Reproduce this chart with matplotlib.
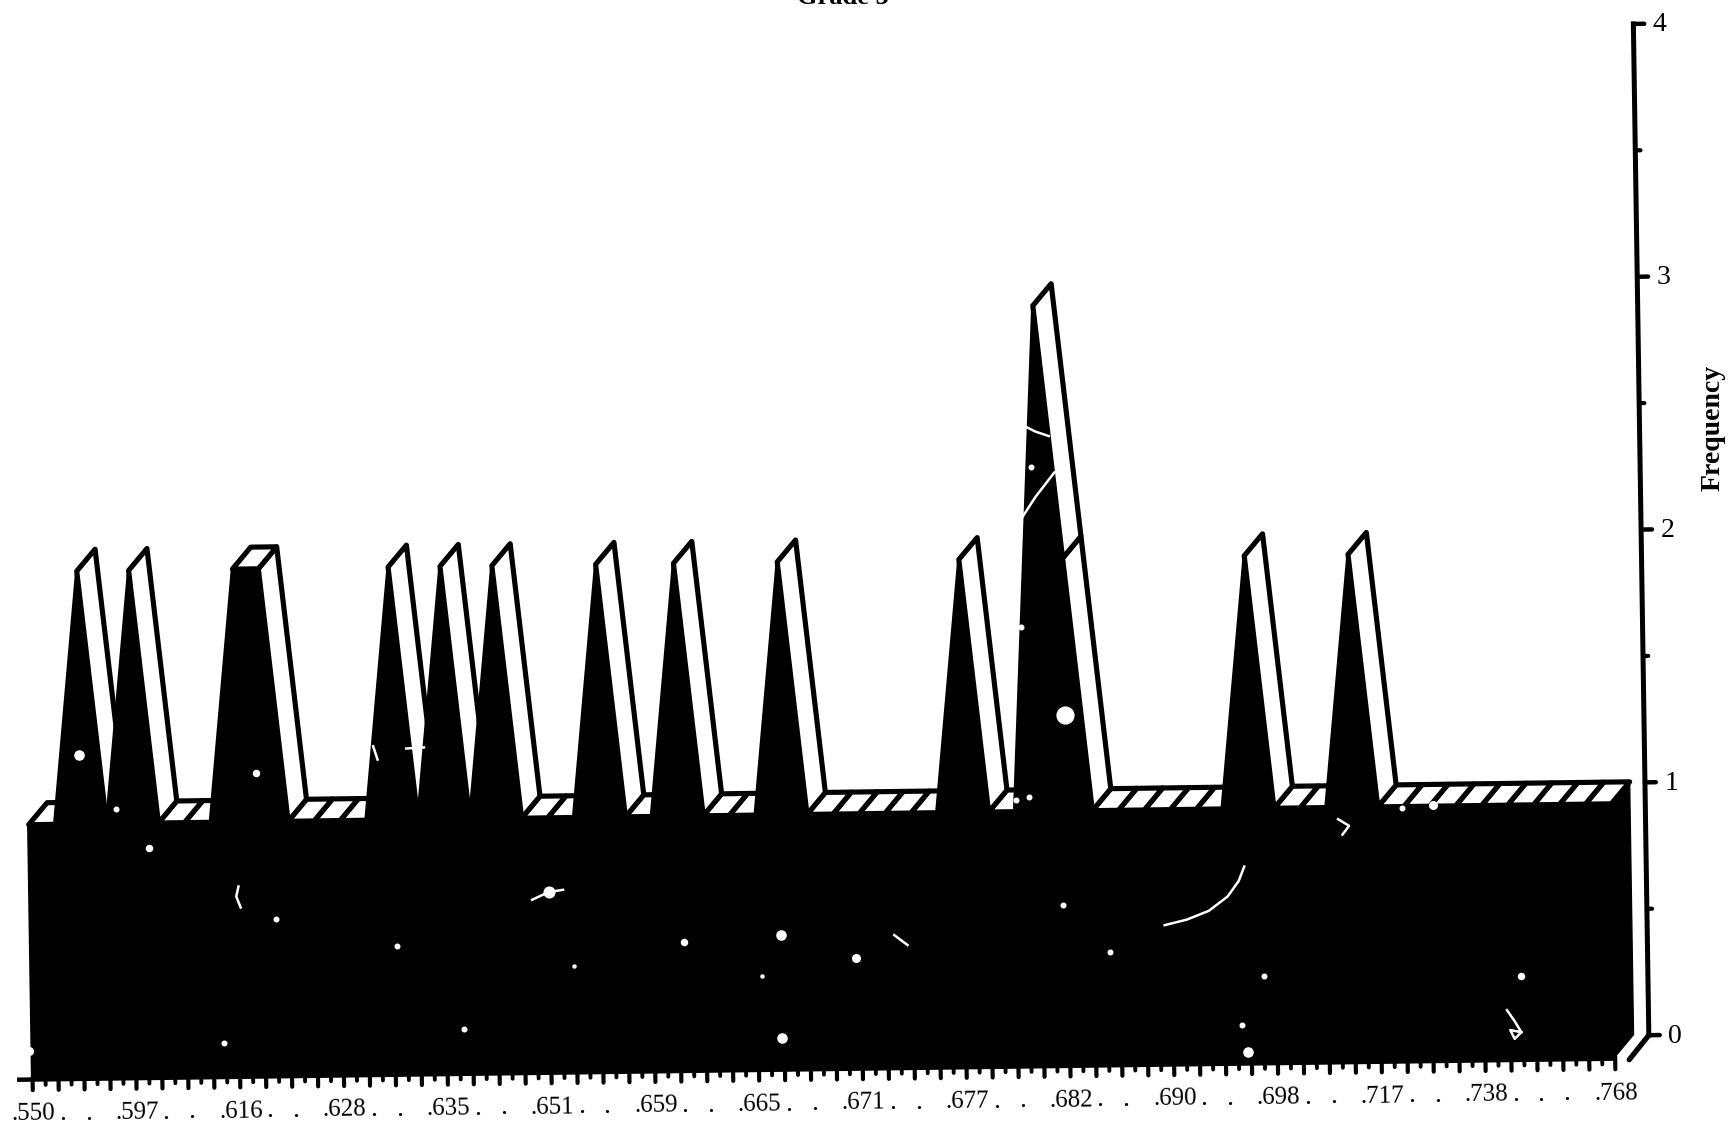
import numpy as np
import matplotlib
matplotlib.use("Agg")
import matplotlib.pyplot as plt
from matplotlib.transforms import Affine2D
from matplotlib.patches import Polygon

# ---- data ----
frequency = [1, 1, 2, 1, 2, 1, 1, 1, 2, 2, 1, 1, 1, 1, 2, 1, 2, 1, 2, 1, 1, 1, 2, 1, 1, 2, 1, 1, 1, 2,
             1, 1, 1, 1, 1, 1, 2, 1, 1, 3, 2, 1, 1, 1, 1, 1, 1, 2, 1, 1, 1, 2, 1, 1, 1, 1, 1, 1, 1, 1, 1, 1]
label_index = [0, 4, 8, 12, 16, 20, 24, 28, 32, 36, 40, 44, 48, 52, 56, 61]
label_text = [".550", ".597", ".616", ".628", ".635", ".651", ".659", ".665", ".671", ".677",
              ".682", ".690", ".698", ".717", ".738", ".768"]
y_ticks = [0, 1, 2, 3, 4]
y_minor = [0.5, 1.5, 2.5, 3.5]

W, H = 1731, 1126
fig = plt.figure(figsize=(W / 100, H / 100), dpi=100, facecolor="white")
SERIF = "Liberation Serif"

n = len(frequency)
S = 1.104
x0 = (26 + 3.5) * S
y0 = H - 976 * S
w = (n - 1) * 23.5 * S
h = 4 * 229 * S
ax = fig.add_axes([x0 / W, y0 / H, w / W, h / H])
ax.set_xlim(0, n - 1)
ax.set_ylim(0, 4)
ax.axis("off")

# scanned page is slightly rotated / sheared
shear = Affine2D.from_values(1, 0.0132, -3.5 / 229, 1, 0, 0)
page = Affine2D().translate(-x0, -y0) + shear + Affine2D().translate(x0, y0)
tf = ax.transData + page

DI, DF = 0.72, 0.086      # depth offset of the 3-D ribbon, in data units
AXIS_I = n - 1 + 1.31
AXIS_F = 0.083
LW = 3.7
xs = np.arange(n)
ys = np.array(frequency, float)

# top/side faces, right to left
for i in range(n - 2, -1, -1):
    if ys[i + 1] > ys[i]:
        continue
    poly = [(xs[i], ys[i]), (xs[i + 1], ys[i + 1]),
            (xs[i + 1] + DI, ys[i + 1] + DF), (xs[i] + DI, ys[i] + DF)]
    ax.add_patch(Polygon(poly, closed=True, fc="white", ec="black", lw=LW,
                         joinstyle="round", transform=tf, clip_on=False, zorder=2))

# black right-hand wall
wall = [(xs[-1], 0), (xs[-1], ys[-1]), (xs[-1] + DI, ys[-1] + DF), (xs[-1] + DI, DF)]
ax.add_patch(Polygon(wall, closed=True, fc="black", ec="black", lw=1, transform=tf,
                     clip_on=False, zorder=3))

# black front face
front = [(xs[0], 0)] + list(zip(xs, ys)) + [(xs[-1], 0)]
ax.add_patch(Polygon(front, closed=True, fc="black", ec="black", lw=2.4, joinstyle="round",
                     transform=tf, clip_on=False, zorder=4))

# comb of ticks below the front face
ax.plot([-0.6, n - 1], [-0.008, -0.008], color="black", lw=3.2, transform=tf, clip_on=False,
        solid_capstyle="butt", zorder=5)
for i in range(n):
    ax.plot([i, i], [0, -0.05], color="black", lw=3, transform=tf, clip_on=False,
            solid_capstyle="round", zorder=5)
    if i < n - 1:
        ax.plot([i + .5, i + .5], [0, -0.03], color="black", lw=2.8, transform=tf,
                clip_on=False, solid_capstyle="round", zorder=5)

# category labels and the dots for the unlabelled categories
TS = 18
for i, t in zip(label_index, label_text):
    ax.text(i, -0.145, t, family=SERIF, fontsize=TS, ha="center", va="center", rotation=0.75,
            transform=tf, clip_on=False, zorder=6)
for a, b in zip(label_index[:-1], label_index[1:]):
    for j in range(a + 1, b - 1):
        ax.text(j + 0.12, -0.17, ".", family=SERIF, fontsize=TS + 2, ha="center", va="baseline",
                transform=tf, clip_on=False, zorder=6)

# frequency axis on the right
ax.plot([AXIS_I, AXIS_I], [AXIS_F, 4 + AXIS_F], color="black", lw=3.6, transform=tf,
        clip_on=False, solid_capstyle="projecting", zorder=5)
ax.plot([AXIS_I, AXIS_I - DI - 0.05], [AXIS_F, AXIS_F - DF - 0.01], color="black", lw=3.8,
        transform=tf, clip_on=False, solid_capstyle="round", zorder=5)
for v in y_ticks:
    ax.plot([AXIS_I, AXIS_I + 0.42], [v + AXIS_F, v + AXIS_F], color="black", lw=3.2, transform=tf,
            clip_on=False, solid_capstyle="round", zorder=5)
    ax.text(AXIS_I + 1.02, v + AXIS_F - 0.005, str(v), family=SERIF, fontsize=20, ha="center",
            va="center", transform=tf, clip_on=False, zorder=6)
for v in y_minor:
    ax.plot([AXIS_I, AXIS_I + 0.2], [v + AXIS_F, v + AXIS_F], color="black", lw=3, transform=tf,
            clip_on=False, solid_capstyle="round", zorder=5)

fig.text(1713 / W, 1 - 428 / H, "Frequency", family=SERIF, fontweight="bold", fontsize=20,
         rotation=90, ha="center", va="center")
fig.text(843 / W, 1 - 4 / H, "Grade 5", family=SERIF, fontweight="bold", fontsize=19,
         ha="center", va="baseline")

# scan blemishes (white scratches and blobs), positions in the shrunk 1568-wide view
scratches = [
    [(1055, 838), (1075, 833), (1095, 825), (1112, 812), (1122, 798), (1127, 785)],
    [(926, 385), (938, 391), (950, 395)],
    [(925, 470), (938, 450), (955, 428)],
    [(1365, 915), (1372, 925), (1378, 935), (1372, 941), (1368, 933), (1378, 935)],
    [(1212, 742), (1222, 748), (1216, 756)],
    [(216, 803), (214, 812), (218, 822)],
    [(482, 815), (497, 808), (510, 806)],
    [(810, 847), (822, 856)],
    [(338, 676), (342, 688)],
    [(368, 678), (384, 677)],
]
for s in scratches:
    px = np.array(s) * S
    fig.add_artist(plt.Line2D(px[:, 0] / W, 1 - px[:, 1] / H, color="white", lw=1.8, zorder=20))

blobs = [(965, 648, 11), (72, 684, 6), (497, 808, 7), (707, 847, 6), (708, 940, 6), (1130, 953, 6),
         (775, 868, 5), (620, 853, 4), (232, 700, 4), (135, 768, 4), (203, 945, 3), (1378, 884, 4),
         (925, 568, 3), (934, 423, 3), (1145, 884, 3), (26, 952, 5), (420, 932, 3),
         (250, 832, 3), (1005, 862, 3), (963, 820, 3), (1125, 928, 3), (1270, 732, 3), (1298, 729, 5),
         (690, 884, 2), (520, 875, 2), (360, 857, 3), (105, 733, 3), (920, 725, 3), (932, 722, 3)]
for bx, by, r in blobs:
    fig.add_artist(plt.Line2D([bx * S / W], [1 - by * S / H], marker="o", ms=r * 1.1, mfc="white",
                              mec="white", ls="", zorder=20))

fig.savefig("out.png", dpi=100, facecolor="white")
